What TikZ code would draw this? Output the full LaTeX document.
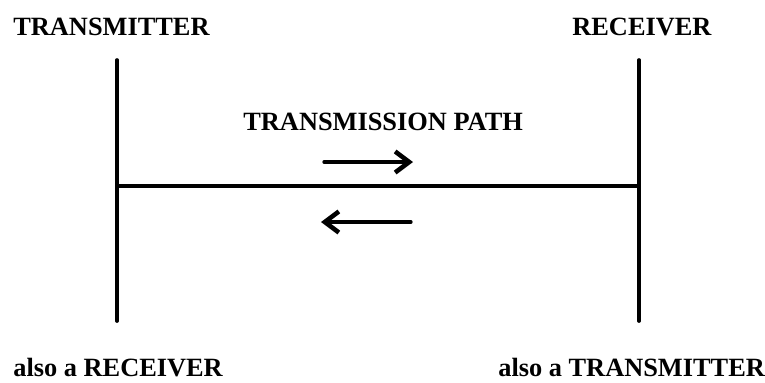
\documentclass[tikz,border=0pt]{standalone}
\usepackage{fontspec}
\setmainfont{Liberation Serif}
\usetikzlibrary{arrows.meta}
\usepackage{tkz-euclide}
\tikzset{lbl/.style={font=\fontsize{15}{18}\selectfont\bfseries,inner sep=0pt,anchor=base west}}

\begin{document}
\begin{tikzpicture}
\tkzSetUpLine[line width=2.1pt,color=black]
\useasboundingbox (0,0) rectangle (15.3,-7.64);

\tkzDefPoints{2.34/-1.2/T1,2.34/-6.42/T2,12.78/-1.2/R1,12.78/-6.42/R2}
\tkzDefPoints{2.34/-3.72/P1,12.78/-3.72/P2}
\tkzDefPoints{6.48/-3.24/F1,8.26/-3.24/F2,8.22/-4.44/B1,6.42/-4.44/B2}

\tkzDrawSegments(T1,T2 R1,R2 P1,P2)
\tkzDrawSegments[line width=1.9pt,-{Straight Barb[length=8pt,width=12pt,line width=2.6pt]}](F1,F2 B1,B2)

\node[lbl] (tx) at (0.26,-0.7) {TRANSMITTER};
\node[lbl] (rx) at (11.44,-0.7) {RECEIVER};
\node[lbl] (path) at (4.86,-2.6) {TRANSMISSION PATH};
\node[lbl] (txrx) at (0.26,-7.52) {also a RECEIVER};
\node[lbl] (rxtx) at (9.96,-7.52) {also a TRANSMITTER};

\end{tikzpicture}
\end{document}
